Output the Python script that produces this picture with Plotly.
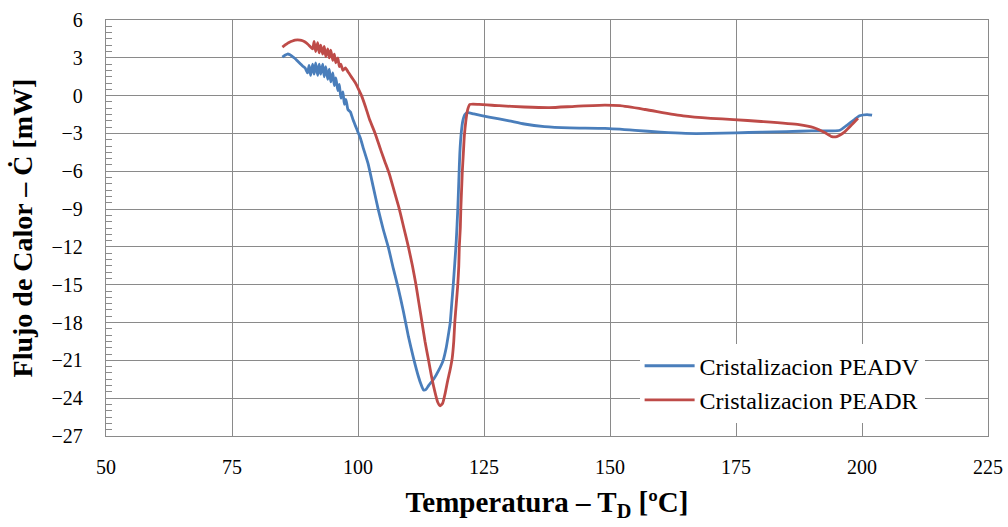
import plotly.graph_objects as go

# ---- data ----
t_peadv = [85, 85.5, 86, 86.5, 87, 87.5, 88, 88.5, 89, 89.5, 90, 90.3, 90.6, 91, 91.3, 91.6,
           92, 92.3, 92.6, 93, 93.3, 93.6, 94, 94.3, 94.6, 95, 95.3, 95.6, 96, 96.3, 96.6,
           97, 97.3, 97.6, 98, 98.5, 99, 99.5, 100, 100.5, 101, 102, 103, 104, 105, 106,
           107, 108, 109, 110, 111, 112, 112.5, 113, 113.5, 114, 115, 116, 116.9, 117.5,
           118, 118.3, 118.6, 118.9, 119.2, 119.5, 119.8, 120.0, 120.2, 120.5, 120.8,
           121.2, 121.8, 123, 126, 130, 133, 137, 142, 149, 155, 160, 165, 170, 175, 180,
           185, 190, 194, 195.6, 197, 198.5, 199.5, 201, 202]
q_peadv = [3.05, 3.2, 3.3, 3.25, 3.1, 2.95, 2.75, 2.55, 2.35, 2.2, 1.8, 2.4, 1.6, 2.5, 1.7, 2.6,
           1.6, 2.5, 1.7, 2.5, 1.5, 2.3, 1.3, 2.1, 1.1, 1.8, 0.8, 1.4, 0.4, 0.9, -0.2,
           0.3, -0.7, -0.3, -1.1, -1.3, -1.9, -2.4, -2.9, -3.4, -4.1, -5.4, -7.2, -9.0, -10.6, -12.0,
           -13.7, -15.3, -17.1, -19.1, -20.8, -22.3, -22.9, -23.35, -23.3, -23.0, -22.5, -21.8, -21.0, -20.0,
           -18.8, -18.0, -16.5, -15.0, -13.3, -11.5, -9.0, -6.8, -4.6, -2.9, -2.0,
           -1.5, -1.35, -1.45, -1.7, -2.0, -2.25, -2.45, -2.55, -2.6, -2.75, -2.9, -3.0, -3.0, -2.95, -2.9,
           -2.85, -2.8, -2.8, -2.75, -2.35, -1.9, -1.6, -1.5, -1.55]

t_peadr = [85, 85.5, 86, 86.5, 87, 87.5, 88, 88.5, 89, 89.5, 90, 90.5, 91, 91.3, 91.6, 92,
           92.3, 92.6, 93, 93.3, 93.6, 94, 94.3, 94.6, 95, 95.3, 95.6, 96, 96.3, 96.6, 97,
           97.5, 98, 98.5, 99, 99.5, 100, 100.7, 101.5, 102.3, 103.4, 104.5, 105.3, 106.2,
           107.2, 108.2, 109.1, 110, 110.8, 111.5, 112.1, 112.7, 113.3, 114, 114.6, 115.2,
           115.8, 116.3, 116.8, 117.3, 117.8, 118.3, 118.7, 119.0, 119.2, 119.5, 119.8, 120.0,
           120.1, 120.3, 120.4, 120.6, 120.7, 120.9, 121.1, 121.4, 121.7, 122.2, 124, 128,
           133, 138, 143, 149, 152, 157, 164.5, 170, 174.5, 180, 187.5, 190.5, 192.5, 194,
           195, 196.5, 198, 199.2]
q_peadr = [3.85, 4.0, 4.15, 4.25, 4.33, 4.4, 4.42, 4.4, 4.35, 4.25, 4.1, 3.9, 3.7, 4.3, 3.5, 4.2,
           3.4, 4.0, 3.3, 3.9, 3.1, 3.7, 3.0, 3.6, 2.8, 3.3, 2.6, 3.0, 2.3, 2.5, 2.0,
           2.2, 1.9, 1.6, 1.3, 1.0, 0.6, 0.0, -0.9, -1.9, -3.0, -4.3, -5.2, -6.2,
           -7.6, -9.0, -10.5, -12.0, -13.5, -15.0, -16.5, -18.0, -19.5, -21.0, -22.3, -23.4,
           -24.3, -24.6, -24.4, -23.6, -22.6, -21.7, -20.8, -19.5, -18.0, -16.5, -15.0, -13.5,
           -12.0, -10.5, -9.0, -7.0, -6.0, -4.6, -3.2, -2.0, -1.2, -0.7, -0.7, -0.8,
           -0.9, -0.95, -0.85, -0.75, -0.8, -1.1, -1.6, -1.8, -1.9, -2.05, -2.3, -2.55, -2.9, -3.25,
           -3.25, -2.9, -2.3, -1.8]

series_names = ["Cristalizacion PEADV", "Cristalizacion PEADR"]
x_title = "Temperatura – T<sub>D</sub> [ºC]"
y_title = "Flujo de Calor – Ċ [mW]"

FONT = "Liberation Serif"
GRID = "#8a8a8a"

fig = go.Figure()
fig.add_trace(go.Scatter(x=t_peadv, y=q_peadv, mode="lines", name=series_names[0],
                         line=dict(color="#4A7EBB", width=2.8, shape="spline", smoothing=0.5)))
fig.add_trace(go.Scatter(x=t_peadr, y=q_peadr, mode="lines", name=series_names[1],
                         line=dict(color="#BE4B48", width=2.8, shape="spline", smoothing=0.5)))

fig.update_layout(
    width=1008, height=527,
    margin=dict(l=106, r=20, t=20, b=91),
    paper_bgcolor="white", plot_bgcolor="white",
    font=dict(family=FONT, size=20, color="black"),
    showlegend=True,
    legend=dict(x=0.605, y=0.222, xanchor="left", yanchor="top",
                bgcolor="white", borderwidth=0,
                font=dict(family=FONT, size=24, color="black"),
                itemwidth=50),
    xaxis=dict(range=[50, 225], dtick=25, tick0=50, automargin=False,
               showgrid=True, gridcolor=GRID, gridwidth=1.4,
               showline=True, linecolor=GRID, linewidth=1.4, mirror=True,
               ticks="", zeroline=False, ticklabelstandoff=13,
               tickfont=dict(family=FONT, size=20),
               title=dict(text=x_title, standoff=14,
                          font=dict(family=FONT, size=29, weight="bold"))),
    yaxis=dict(range=[-27, 6], dtick=3, tick0=0, automargin=False,
               showgrid=True, gridcolor=GRID, gridwidth=1.4,
               showline=True, linecolor=GRID, linewidth=1.4, mirror=True,
               ticks="", zeroline=False, ticklabelstandoff=18,
               tickfont=dict(family=FONT, size=20),
               minor=dict(dtick=0.5, ticks="inside", ticklen=6, tickcolor=GRID,
                          tickwidth=1.2, showgrid=False),
               title=dict(text=y_title, standoff=10,
                          font=dict(family=FONT, size=28, weight="bold"))),
)

# remove the page's default 8px body margin so the figure fills the window exactly
fig.write_html("out.html", config={"displayModeBar": False},
               post_script="document.body.style.margin='0px';")
